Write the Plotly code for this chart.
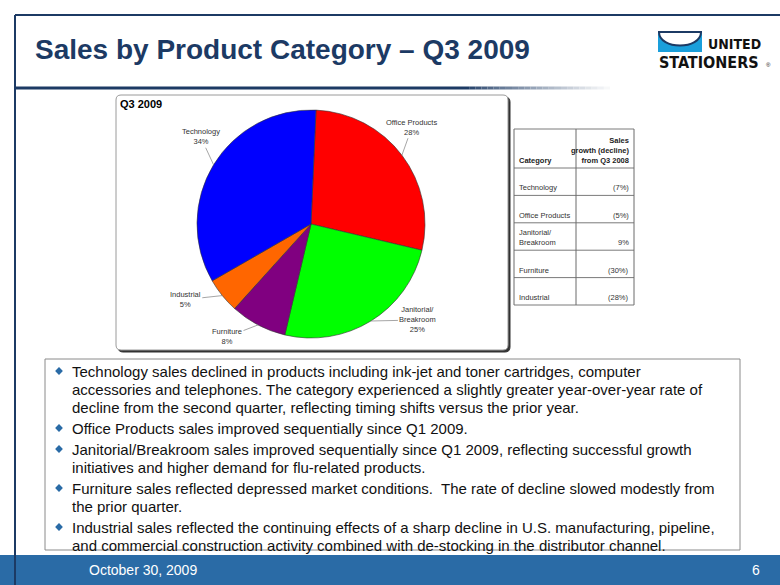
import math
import plotly.graph_objects as go

W, H = 780, 585

# ---------------- data ----------------
slice_names = ["Office Products", "Janitorial/Breakroom", "Furniture", "Industrial", "Technology"]
slice_label_text = ["Office Products", "Janitorial/<br>Breakroom", "Furniture", "Industrial", "Technology"]
slice_shares = [28, 25, 8, 5, 34]
slice_colors = ["#FF0000", "#00FF00", "#800080", "#FF6600", "#0000FF"]

table_header = ["Category", "Sales<br>growth (decline)<br>from Q3 2008"]
table_categories = ["Technology", "Office Products", "Janitorial/<br>Breakroom", "Furniture", "Industrial"]
table_growth = [-7, -5, 9, -30, -28]

bullets = [
    ["Technology sales declined in products including ink-jet and toner cartridges, computer",
     "accessories and telephones. The category experienced a slightly greater year-over-year rate of",
     "decline from the second quarter, reflecting timing shifts versus the prior year."],
    ["Office Products sales improved sequentially since Q1 2009."],
    ["Janitorial/Breakroom sales improved sequentially since Q1 2009, reflecting successful growth",
     "initiatives and higher demand for flu-related products."],
    ["Furniture sales reflected depressed market conditions.\u00a0 The rate of decline slowed modestly from",
     "the prior quarter."],
    ["Industrial sales reflected the continuing effects of a sharp decline in U.S. manufacturing, pipeline,",
     "and commercial construction activity combined with de-stocking in the distributor channel."],
]

title_text = "Sales by Product Category \u2013 Q3 2009"
chart_title = "Q3 2009"
footer_date = "October 30, 2009"
page_number = "6"

# ---------------- style ----------------
FONT = "Liberation Sans, Arial, Helvetica, sans-serif"
NAVY = "#1C3A64"
FOOT = "#2A6BA6"
CX, CY, R = 311, 224, 114
ROT = 2.5
label_offsets = [(10, -28), (47, -1), (-31, 12), (-37, 4), (-13, -28)]

fig = go.Figure()
shapes = []
ann = []


def line(x0, y0, x1, y1, color, width, layer="below"):
    shapes.append(dict(type="line", xref="x", yref="y", x0=x0, y0=y0, x1=x1, y1=y1,
                       line=dict(color=color, width=width), layer=layer))


def rrect(x0, y0, x1, y1, r):
    return (f"M {x0+r},{y0} L {x1-r},{y0} Q {x1},{y0} {x1},{y0+r} L {x1},{y1-r} "
            f"Q {x1},{y1} {x1-r},{y1} L {x0+r},{y1} Q {x0},{y1} {x0},{y1-r} "
            f"L {x0},{y0+r} Q {x0},{y0} {x0+r},{y0} Z")


def text(x, y, s, size, color="#000", xanchor="left", yanchor="middle", bold=False, align="left"):
    ann.append(dict(x=x, y=y, xref="x", yref="y", text=s, showarrow=False,
                    xanchor=xanchor, yanchor=yanchor, align=align,
                    font=dict(family=FONT, size=size, color=color,
                              weight="bold" if bold else "normal")))


# slide frame
shapes.append(dict(type="rect", xref="x", yref="y", x0=0, y0=555, x1=W, y1=H,
                   fillcolor=FOOT, line=dict(width=0), layer="below"))
line(15, 15, W, 15, NAVY, 2)
line(15, 15, 15, H, NAVY, 2)
line(15, 88, 463, 88, NAVY, 3)
nseg = 24
for i in range(nseg):
    t = i / nseg
    c0 = (0x1C, 0x3A, 0x64)
    col = tuple(int(c + (255 - c) * (t ** 0.8)) for c in c0)
    line(463 + (610 - 463) * i / nseg, 88, 463 + (610 - 463) * (i + 1) / nseg, 88,
         "rgb(%d,%d,%d)" % col, 3)

# title
text(33, 49, title_text, 28, NAVY, bold=True)

# logo
shapes.append(dict(type="rect", xref="x", yref="y", x0=658, y0=32, x1=702, y1=52,
                   fillcolor="#1A9FDB", line=dict(width=0), layer="below"))
shapes.append(dict(type="path", xref="x", yref="y",
                   path="M 659,32 C 659,50 701,50 701,32 Z",
                   fillcolor="white", line=dict(color=NAVY, width=2), layer="below"))
line(658, 32, 702, 32, NAVY, 2)
for s, x, y, sz in [("UNITED", 706, 44, 14), ("STATIONERS", 657, 62, 16)]:
    ann.append(dict(x=x, y=y, xref="x", yref="y", text=s, showarrow=False, xanchor="left",
                    font=dict(family="Liberation Sans Narrow, DejaVu Sans Condensed, Liberation Sans, sans-serif",
                              size=sz, color="#111", weight="bold")))
text(764, 65, "\u00ae", 6, "#111")

# chart box (shadow + box)
shapes.append(dict(type="path", xref="x", yref="y", path=rrect(118, 97, 510, 352, 5),
                   fillcolor="#333", line=dict(color="#333", width=1), layer="below"))
shapes.append(dict(type="path", xref="x", yref="y", path=rrect(116, 95, 508, 350, 5),
                   fillcolor="white", line=dict(color="#9a9a9a", width=1), layer="below"))
text(118, 104, chart_title, 11, "#000", bold=True)

# pie
fig.add_trace(go.Pie(labels=slice_names, values=slice_shares, sort=False, direction="clockwise",
                     rotation=ROT, textinfo="none", hoverinfo="skip",
                     marker=dict(colors=slice_colors, line=dict(color="#333", width=0.6)),
                     domain=dict(x=[(CX - R) / W, (CX + R) / W], y=[1 - (CY + R) / H, 1 - (CY - R) / H])))

total = sum(slice_shares)
cum = 0
for name, v, (ox, oy) in zip(slice_label_text, slice_shares, label_offsets):
    mid = math.radians(ROT + 360 * (cum + v / 2) / total)
    cum += v
    ex, ey = CX + R * math.sin(mid), CY - R * math.cos(mid)
    ann.append(dict(x=ex, y=ey, xref="x", yref="y", ax=ox, ay=oy, text=f"{name}<br>{v}%",
                    showarrow=True, arrowhead=0, arrowwidth=0.7, arrowcolor="#808080",
                    align="center", font=dict(family=FONT, size=7.5, color="#333")))

# table
TX = [514, 576, 634]
TY0, HEAD_H, ROW_H = 129, 39, 27.4
row_edges = [TY0, TY0 + HEAD_H] + [TY0 + HEAD_H + ROW_H * (i + 1) for i in range(len(table_categories))]
for y in row_edges:
    line(TX[0], y, TX[-1], y, "#7a7a7a", 1)
for x in TX:
    line(x, row_edges[0], x, row_edges[-1], "#6a6a6a", 1)


def fmt(v):
    return f"({abs(v)}%)" if v < 0 else f"{v}%"


text(TX[0] + 3, row_edges[1] - 1, table_header[0], 7.5, "#222", yanchor="bottom", bold=True)
text(TX[2] - 3, row_edges[1] - 1, table_header[1], 7.5, "#222", xanchor="right", yanchor="bottom",
     bold=True, align="right")
for i, (c, g) in enumerate(zip(table_categories, table_growth)):
    yb = row_edges[i + 2] - 1
    text(TX[0] + 3, yb, c, 7.5, "#333", yanchor="bottom")
    text(TX[2] - 3, yb, fmt(g), 7.5, "#333", xanchor="right", yanchor="bottom")

# bullet box
shapes.append(dict(type="rect", xref="x", yref="y", x0=45, y0=359, x1=740, y1=550,
                   fillcolor="rgba(0,0,0,0)", line=dict(color="#8a8a8a", width=1), layer="below"))
y = 371
bx, by = [], []
for para in bullets:
    bx.append(59)
    by.append(y)
    for ln in para:
        text(70, y, ln, 15, "#111")
        y += 18
    y += 3
fig.add_trace(go.Scatter(x=bx, y=by, mode="markers", hoverinfo="skip",
                         marker=dict(symbol="diamond", size=6, color="#2A6BA6")))

# footer
text(87, 570, footer_date, 14, "white")
text(762, 570, page_number, 14, "white", xanchor="right")

fig.update_layout(
    width=W, height=H, margin=dict(l=0, r=0, t=0, b=0),
    paper_bgcolor="white", plot_bgcolor="rgba(0,0,0,0)",
    xaxis=dict(range=[0, W], visible=False, fixedrange=True),
    yaxis=dict(range=[H, 0], visible=False, fixedrange=True),
    showlegend=False, shapes=shapes, annotations=ann,
)

fig.write_html("out.html", config={"displayModeBar": False},
               post_script="document.body.style.margin='0';document.body.style.overflow='hidden';")
